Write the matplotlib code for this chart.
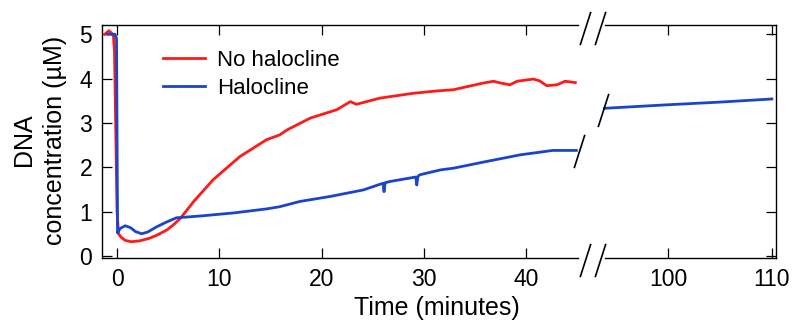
import numpy as np
import matplotlib
matplotlib.use("Agg")
import matplotlib.pyplot as plt
from matplotlib.path import Path

plt.rcParams["font.family"] = ["Liberation Sans", "DejaVu Sans"]

# data (time in minutes, concentration in uM)
red_t = [-1.2, -0.8, -0.5, -0.35, -0.25, 0.0, 0.15, 0.4, 0.8, 1.4, 2.2, 3.2, 4.0,
         4.9, 5.5, 6.2, 7.5, 9.4, 12.0, 14.6, 15.9, 16.6, 18.9, 21.5, 22.8, 23.4,
         25.7, 29.0, 31.2, 32.9, 35.8, 36.8, 37.5, 38.4, 39.1, 40.7, 41.3, 42.0,
         43.0, 43.8, 44.8]
red_c = [5.0, 5.08, 5.02, 4.95, 4.6, 1.0, 0.5, 0.42, 0.35, 0.32, 0.34, 0.40, 0.48,
         0.59, 0.70, 0.85, 1.23, 1.72, 2.24, 2.62, 2.73, 2.84, 3.11, 3.30, 3.48, 3.42,
         3.56, 3.67, 3.72, 3.75, 3.90, 3.94, 3.90, 3.86, 3.94, 3.99, 3.95, 3.84,
         3.86, 3.94, 3.91]

blue_t = [-0.9, -0.2, -0.05, 0.05, 0.3, 0.8, 1.3, 1.8, 2.4, 3.0, 3.9, 4.8, 5.8,
          8.1, 11.4, 14.6, 15.9, 17.9, 20.8, 24.1, 26.0, 26.1, 26.2, 26.7, 29.2,
          29.3, 29.4, 29.6, 31.6, 32.9, 36.1, 39.4, 42.6, 44.9]
blue_c = [5.0, 5.0, 4.9, 0.52, 0.62, 0.68, 0.64, 0.55, 0.50, 0.54, 0.66, 0.76, 0.86,
          0.90, 0.97, 1.06, 1.11, 1.23, 1.34, 1.49, 1.64, 1.45, 1.65, 1.68, 1.78,
          1.60, 1.79, 1.83, 1.94, 1.98, 2.13, 2.28, 2.38, 2.38]

blue_late_t = [93.9, 100, 105, 110]
blue_late_c = [3.33, 3.41, 3.47, 3.54]

red_color = "#ff1a1a"
blue_color = "#1a44cc"
fs_tick = 16.5
fs_label = 18

fig = plt.figure(figsize=(7.92, 3.2), dpi=100)
ax1 = fig.add_axes([0.1288, 0.194, 0.6010, 0.728])
ax2 = fig.add_axes([0.7639, 0.194, 0.2159, 0.728])

ax1.plot(red_t, red_c, color=red_color, lw=2.0, label="No halocline")
ax1.plot(blue_t, blue_c, color=blue_color, lw=2.0, label="Halocline")
ax2.plot(blue_late_t, blue_late_c, color=blue_color, lw=2.0, clip_on=False)

ax1.set_xlim(-1.47, 45.06)
ax2.set_xlim(93.94, 110.4)
for ax in (ax1, ax2):
    ax.set_ylim(-0.045, 5.21)
    ax.tick_params(direction="in", length=7, width=0.9, top=True,
                   labelsize=fs_tick, pad=7)
    for s in ax.spines.values():
        s.set_linewidth(1.0)
ax1.set_xticks([0, 10, 20, 30, 40])
ax2.set_xticks([100, 110])
ax1.set_yticks([0, 1, 2, 3, 4, 5])
ax2.set_yticks([0, 1, 2, 3, 4, 5])
ax1.spines["right"].set_visible(False)
ax2.spines["left"].set_visible(False)
ax2.tick_params(left=False, right=True, labelleft=False)

# break marks
slash = Path([(-0.32, -1), (0.32, 1)], [Path.MOVETO, Path.LINETO])
mk = dict(marker=slash, markersize=24, color="black", mew=1.2, ls="none",
          clip_on=False)
ax1.plot([1.0137, 1.0137], [0.987, -0.009], transform=ax1.transAxes, **mk)
ax2.plot([-0.029, -0.029], [0.987, -0.009], transform=ax2.transAxes, **mk)
ax1.plot([blue_t[-1] + 0.3], [blue_c[-1] - 0.02], **mk)
ax2.plot([blue_late_t[0] - 0.2], [blue_late_c[0] - 0.03], **mk)

ax1.legend(loc="upper left", bbox_to_anchor=(0.2058, 0.844),
           bbox_transform=fig.transFigure, frameon=False, fontsize=16,
           handlelength=1.9, handletextpad=0.55, labelspacing=0.32,
           borderpad=0, borderaxespad=0)

fig.text(0.551, 0.037, "Time (minutes)", ha="center", va="center",
         fontsize=fs_label)
fig.text(0.05, 0.5625, "DNA\nconcentration (\u00b5M)", ha="center", va="center",
         rotation=90, fontsize=fs_label, linespacing=1.4)

fig.savefig("out.png", dpi=100)
